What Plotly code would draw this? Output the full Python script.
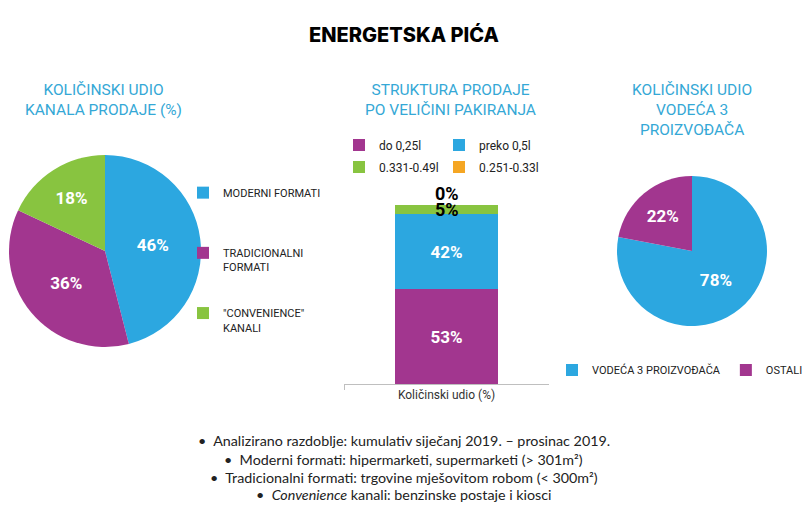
import plotly.graph_objects as go
import numpy as np

W, H = 807, 510

# ---- data ----
channel_labels = ["MODERNI FORMATI", "TRADICIONALNI<br>FORMATI", '"CONVENIENCE"<br>KANALI']
channel_share = [46, 36, 18]

pack_labels = ["do 0,25l", "preko 0,5l", "0.331-0.49l", "0.251-0.33l"]
pack_share = [53, 42, 5, 0]
bar_category = ["Količinski udio (%)"]

producer_labels = ["VODEĆA 3 PROIZVOĐAČA", "OSTALI"]
producer_share = [78, 22]

notes = [
    "•  Analizirano razdoblje: kumulativ siječanj 2019. – prosinac 2019.",
    "•  Moderni formati: hipermarketi, supermarketi (> 301m²)",
    "•  Tradicionalni formati: trgovine mješovitom robom (< 300m²)",
    "•  <i>Convenience</i> kanali: benzinske postaje i kiosci",
]

BLUE = "#2CA7E0"
PURPLE = "#A2368F"
GREEN = "#88C440"
ORANGE = "#F5A623"
SUB = "#35A8D6"

def px_x(x):
    return x / W

def px_y(y):
    return 1 - y / H

fig = go.Figure()

# left pie (legend entries padded so that items are spaced like the reference)
def pad(label, lines=4):
    n = label.count("<br>") + 1
    return label + "<br> " * (lines - n)

pad_labels = [pad(channel_labels[0]), pad(channel_labels[1]), channel_labels[2]]
fig.add_trace(go.Pie(
    labels=pad_labels, values=channel_share, sort=False, direction="clockwise", rotation=0,
    marker=dict(colors=[BLUE, PURPLE, GREEN], line=dict(width=0)),
    textinfo="percent", textposition="inside", insidetextorientation="horizontal",
    textfont=dict(color="white", size=17, family="Roboto", weight="bold"),
    domain=dict(x=[px_x(9), px_x(201)], y=[px_y(347), px_y(155)]),
    legend="legend", hoverinfo="label+percent",
))

# right pie
fig.add_trace(go.Pie(
    labels=producer_labels, values=producer_share, sort=False, direction="clockwise", rotation=0,
    marker=dict(colors=[BLUE, PURPLE], line=dict(width=0)),
    textinfo="percent", textposition="inside", insidetextorientation="horizontal",
    textfont=dict(color="white", size=17, family="Roboto", weight="bold"),
    domain=dict(x=[px_x(617), px_x(767)], y=[px_y(326), px_y(176)]),
    legend="legend4",
))

# stacked bar
bar_colors = [PURPLE, BLUE, GREEN, ORANGE]
bar_legends = ["legend2", "legend2", "legend3", "legend3"]
for i, (lab, val) in enumerate(zip(pack_labels, pack_share)):
    inside = i < 2
    fig.add_trace(go.Bar(
        x=bar_category, y=[val], name=lab, marker=dict(color=bar_colors[i], line=dict(width=0)),
        text=[f"{val}%"] if inside else None,
        textposition="inside" if inside else "none",
        insidetextanchor="middle", textangle=0,
        textfont=dict(color="white", size=17, family="Roboto", weight="bold"),
        legend=bar_legends[i],
    ))

cum = np.cumsum(pack_share)
starts = cum - np.array(pack_share)
annotations = []
lab_font = dict(color="black", size=18, family="Roboto", weight="bold")
annotations.append(dict(x=bar_category[0], y=(starts[2] + cum[2]) / 2, xref="x", yref="y",
                        yanchor="middle", text=f"{pack_share[2]}%", showarrow=False, font=lab_font))
annotations.append(dict(x=bar_category[0], y=cum[3], xref="x", yref="y", yanchor="middle", yshift=12,
                        text=f"{pack_share[3]}%", showarrow=False, font=lab_font))

# titles
def paper_text(x, y, text, font):
    return dict(x=x, y=y, xref="paper", yref="paper", xanchor="center", yanchor="middle",
                text=text, showarrow=False, font=font)

annotations.append(paper_text(0.5, px_y(35), "ENERGETSKA PIĆA",
                              dict(size=20, family="Inter", weight=800, color="black")))
sub_font = dict(size=15.5, family="Roboto", color=SUB)
annotations.append(paper_text(px_x(103), px_y(100), "KOLIČINSKI UDIO<br>KANALA PRODAJE (%)", sub_font))
annotations.append(paper_text(px_x(450), px_y(100), "STRUKTURA PRODAJE<br>PO VELIČINI PAKIRANJA", sub_font))
annotations.append(paper_text(px_x(692), px_y(110), "KOLIČINSKI UDIO<br>VODEĆA 3<br>PROIZVOĐAČA", sub_font))

note_y = [440, 459, 477, 494]
for t, yy in zip(notes, note_y):
    annotations.append(paper_text(0.5, px_y(yy), t, dict(size=14.3, family="Lato", color="#222")))

leg_font = dict(size=11, family="Roboto", color="#222")
fig.update_layout(
    width=W, height=H, margin=dict(l=0, r=0, t=0, b=0, autoexpand=False),
    paper_bgcolor="white", plot_bgcolor="white",
    barmode="stack", bargap=0.5,
    xaxis=dict(domain=[px_x(344), px_x(549)], type="category", range=[-0.5, 0.5],
               showline=True, linecolor="#BFBFBF", linewidth=1, ticks="outside",
               tickson="boundaries", tickcolor="#BFBFBF", ticklen=5,
               tickfont=dict(size=12, family="Roboto", color="#333"), showgrid=False, fixedrange=True),
    yaxis=dict(domain=[px_y(384), px_y(205)], range=[0, 100], visible=False, fixedrange=True),
    showlegend=True,
    legend=dict(orientation="v", x=px_x(183), y=px_y(179), xanchor="left", yanchor="top",
                valign="top", font=leg_font, bgcolor="rgba(0,0,0,0)", traceorder="normal"),
    legend2=dict(orientation="h", x=px_x(339), y=px_y(145), xanchor="left", yanchor="middle",
                 font=dict(size=12, family="Roboto", color="#222"), entrywidth=55,
                 traceorder="normal", bgcolor="rgba(0,0,0,0)"),
    legend3=dict(orientation="h", x=px_x(339), y=px_y(167), xanchor="left", yanchor="middle",
                 font=dict(size=12, family="Roboto", color="#222"), entrywidth=55,
                 traceorder="normal", bgcolor="rgba(0,0,0,0)"),
    legend4=dict(orientation="h", x=px_x(552), y=px_y(370), xanchor="left", yanchor="middle",
                 font=dict(size=11, family="Roboto", color="#222"), traceorder="normal",
                 bgcolor="rgba(0,0,0,0)"),
    annotations=annotations,
)

fig.write_html("out.html", config={"displayModeBar": False},
               post_script="document.body.style.margin='0';document.body.style.overflow='hidden';")
